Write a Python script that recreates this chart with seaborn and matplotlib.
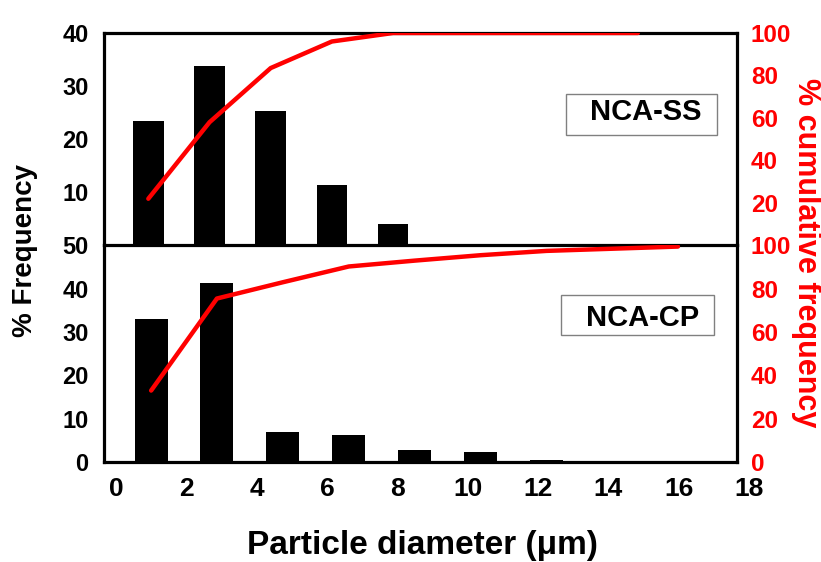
import numpy as np
import pandas as pd
import matplotlib
matplotlib.use('Agg')
import matplotlib.pyplot as plt
import matplotlib.transforms as mtransforms
from matplotlib.patches import Rectangle
import seaborn as sns

# values
ss_diam = [1.26, 3.0, 4.74, 6.48, 8.22, 9.96, 11.7, 13.44, 15.18]
ss_freq = [23.5, 33.8, 25.3, 11.4, 4.1, 0, 0, 0, 0]
ss_cum = [22, 58, 83.5, 96, 100, 100, 100, 100, 100]

cp_diam = [1.34, 3.21, 5.08, 6.96, 8.83, 10.7, 12.58, 14.45, 16.32]
cp_freq = [33.0, 41.4, 6.9, 6.3, 2.8, 2.2, 0.5, 0, 0]
cp_cum = [33, 75.5, 83, 90.3, 93, 95.5, 97.5, 98.5, 99.5]

x_ticks = [0, 2, 4, 6, 8, 10, 12, 14, 16, 18]
ss_left_ticks = [10, 20, 30, 40]
cp_left_ticks = [0, 10, 20, 30, 40, 50]
ss_right_ticks = [20, 40, 60, 80, 100]
cp_right_ticks = [0, 20, 40, 60, 80, 100]

sns.set_theme(style='white')
plt.rcParams['font.family'] = ['Liberation Sans', 'DejaVu Sans']
plt.rcParams['font.weight'] = 'bold'
plt.rcParams['text.color'] = 'black'
plt.rcParams['xtick.color'] = 'black'
plt.rcParams['ytick.color'] = 'black'
plt.rcParams['axes.labelcolor'] = 'black'

RED = '#ff0000'

fig = plt.figure(figsize=(8.21, 5.62), dpi=100)
ax_top = fig.add_axes([0.1267, 0.5632, 0.771, 0.3781])
ax_bot = fig.add_axes([0.1267, 0.1779, 0.771, 0.3853])


def panel(ax, diam, freq, cum, ymax, lticks, rticks, name, box, txt):
    sns.barplot(x=diam, y=freq, ax=ax, native_scale=True, color='black',
                width=0.5, edgecolor='black', linewidth=0, saturation=1)
    ax.set_xlim(0, 18)
    ax.set_ylim(0, ymax)
    ax.set_yticks(lticks)
    ax.set_yticklabels([str(t) for t in lticks], fontsize=17, fontweight='bold',
                       color='black')
    ax.tick_params(axis='both', length=0)
    ax.tick_params(axis='y', pad=11)
    for s in ax.spines.values():
        s.set_linewidth(2.3)
        s.set_color('black')

    ax2 = ax.twinx()
    sns.lineplot(x=diam, y=cum, ax=ax2, color=RED, linewidth=3.2, sort=False)
    ax2.set_ylim(0, 100)
    ax2.set_yticks(rticks)
    ax2.set_yticklabels([str(t) for t in rticks], fontsize=17.5,
                        fontweight='bold', color=RED)
    ax2.tick_params(axis='y', length=0, pad=10)
    ax2.set_ylabel('')
    for s in ax2.spines.values():
        s.set_visible(False)

    ax.add_patch(Rectangle((box[0], box[1]), box[2], box[3], transform=ax.transAxes,
                           facecolor='white', edgecolor='#808080', linewidth=1.0,
                           zorder=5))
    ax.text(txt[0], txt[1], name, transform=ax.transAxes, ha='center', va='center',
            fontsize=21, fontweight='bold', color='black', zorder=6)
    return ax2


ax2_top = panel(ax_top, ss_diam, ss_freq, ss_cum, 40, ss_left_ticks, ss_right_ticks,
                'NCA-SS', (0.730, 0.519, 0.2385, 0.193), (0.856, 0.627))
ax2_bot = panel(ax_bot, cp_diam, cp_freq, cp_cum, 50, cp_left_ticks, cp_right_ticks,
                'NCA-CP', (0.7215, 0.585, 0.2427, 0.185), (0.851, 0.667))

for ax, ax2 in [(ax_top, ax2_top), (ax_bot, ax2_bot)]:
    ax.set_zorder(0)
    ax2.set_zorder(1)
    ax.patch.set_visible(True)
    ax2.patch.set_visible(False)

ax_top.spines['bottom'].set_visible(False)
ax_top.set_xticks(x_ticks)
ax_top.set_xticklabels([])

ax_bot.set_xticks(x_ticks)
ax_bot.set_xticklabels([str(t) for t in x_ticks], fontsize=19, fontweight='bold',
                       color='black')
ax_bot.tick_params(axis='x', pad=11)
shift = mtransforms.ScaledTranslation(12 / 100, 0, fig.dpi_scale_trans)
for lab in ax_bot.get_xticklabels():
    lab.set_transform(lab.get_transform() + shift)

for ax in (ax_top, ax_bot):
    ax.set_xlabel('')
    ax.set_ylabel('')

fig.text(0.030, 0.555, '% Frequency', rotation=90, ha='center', va='center',
         fontsize=20, fontweight='bold', color='black')
fig.text(0.982, 0.55, '% cumulative frequency', rotation=270, ha='center',
         va='center', fontsize=22, fontweight='bold', color=RED)
fig.text(0.514, 0.03, 'Particle diameter (\u03bcm)', ha='center', va='center',
         fontsize=24, fontweight='bold', color='black')

fig.savefig('out.png', dpi=100)
